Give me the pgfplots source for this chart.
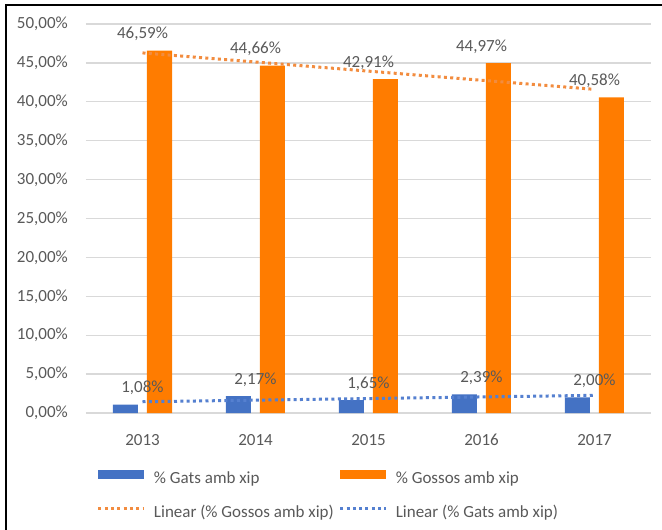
\documentclass[border=0pt]{standalone}
\usepackage{pgfplots}
\pgfplotsset{compat=1.18}
\usepackage{fontspec}
\setmainfont{Carlito}

\definecolor{gatsblue}{HTML}{4472C4}
\definecolor{gossosorange}{HTML}{FF7C00}
\definecolor{trendorange}{HTML}{F28C3F}
\definecolor{trendblue}{HTML}{5580D0}
\definecolor{labelgray}{HTML}{595959}
\definecolor{gridgray}{HTML}{D9D9D9}

\newcommand{\chartfont}{\fontsize{17}{20}\selectfont}

\begin{document}
\begin{tikzpicture}
\useasboundingbox (0pt,0pt) rectangle (662pt,-530pt);
\draw[line width=2.8pt] (6pt,-540pt) -- (6pt,-5pt) -- (670pt,-5pt);
\begin{axis}[
    at={(86pt,-413pt)}, anchor=south west,
    scale only axis,
    width=565pt, height=389pt,
    xmin=-0.5, xmax=4.5,
    ymin=0, ymax=50,
    axis line style={draw=none},
    tick style={draw=none},
    ymajorgrids=true,
    grid style={gridgray, line width=1.3pt},
    xtick={0,1,2,3,4},
    xticklabels={2013,2014,2015,2016,2017},
    ytick={0,5,...,50},
    yticklabels={{0,00\%},{5,00\%},{10,00\%},{15,00\%},{20,00\%},{25,00\%},
                 {30,00\%},{35,00\%},{40,00\%},{45,00\%},{50,00\%}},
    every tick label/.append style={font=\chartfont, text=labelgray},
    xticklabel style={anchor=base, inner sep=0pt, yshift=-32pt},
    yticklabel style={anchor=east, inner sep=0pt, xshift=-18pt},
    /pgf/number format/assume math mode=true,
    legend columns=2,
    legend style={
        at={(0,0)}, anchor=north west,
        xshift=11pt, yshift=-56.5pt,
        draw=none, fill=none,
        inner sep=0pt, outer sep=0pt,
        font=\chartfont, text=labelgray,
        nodes={inner sep=0pt, text height=12pt, text depth=4pt},
        row sep=18pt,
        /tikz/every odd column/.append style={column sep=8pt},
        /tikz/every even column/.append style={column sep=5pt},
    },
    legend cell align=left,
]

% % Gats amb xip
\addplot[ybar, bar width=25pt, bar shift=-17pt,
    fill=gatsblue, draw=none,
    nodes near coords={\pgfmathprintnumber[fixed,fixed zerofill,precision=2,use comma]{\pgfplotspointmeta}\%},
    every node near coord/.append style={anchor=base, yshift=12pt, inner sep=0pt,
        font=\chartfont, text=labelgray},
    legend image code/.code={\fill[gatsblue] (0pt,1pt) rectangle (46pt,10pt);}]
coordinates {(0,1.08) (1,2.17) (2,1.65) (3,2.39) (4,2.00)};
\addlegendentry{\% Gats amb xip}

% % Gossos amb xip
\addplot[ybar, bar width=25pt, bar shift=17pt,
    fill=gossosorange, draw=none,
    nodes near coords={\pgfmathprintnumber[fixed,fixed zerofill,precision=2,use comma]{\pgfplotspointmeta}\%},
    every node near coord/.append style={anchor=base, yshift=12pt, inner sep=0pt,
        font=\chartfont, text=labelgray},
    legend image code/.code={\fill[gossosorange] (0pt,1pt) rectangle (46pt,10pt);}]
coordinates {(0,46.59) (1,44.66) (2,42.91) (3,44.97) (4,40.58)};
\addlegendentry{\% Gossos amb xip}

% linear trend lines (least squares fit over the five years)
\addplot[trendorange, line width=3pt, dash pattern=on 3pt off 3.3pt, mark=none,
    legend image code/.code={\draw[trendorange, line width=3pt, dash pattern=on 3pt off 3.3pt] (0pt,5.5pt) -- (46pt,5.5pt);}]
coordinates {(0,46.284) (4,41.600)};
\addlegendentry{Linear (\% Gossos amb xip)}

\addplot[trendblue, line width=3pt, dash pattern=on 3pt off 3.3pt, mark=none,
    legend image code/.code={\draw[trendblue, line width=3pt, dash pattern=on 3pt off 3.3pt] (0pt,5.5pt) -- (46pt,5.5pt);}]
coordinates {(0,1.446) (4,2.270)};
\addlegendentry{Linear (\% Gats amb xip)}

\end{axis}
\end{tikzpicture}
\end{document}
